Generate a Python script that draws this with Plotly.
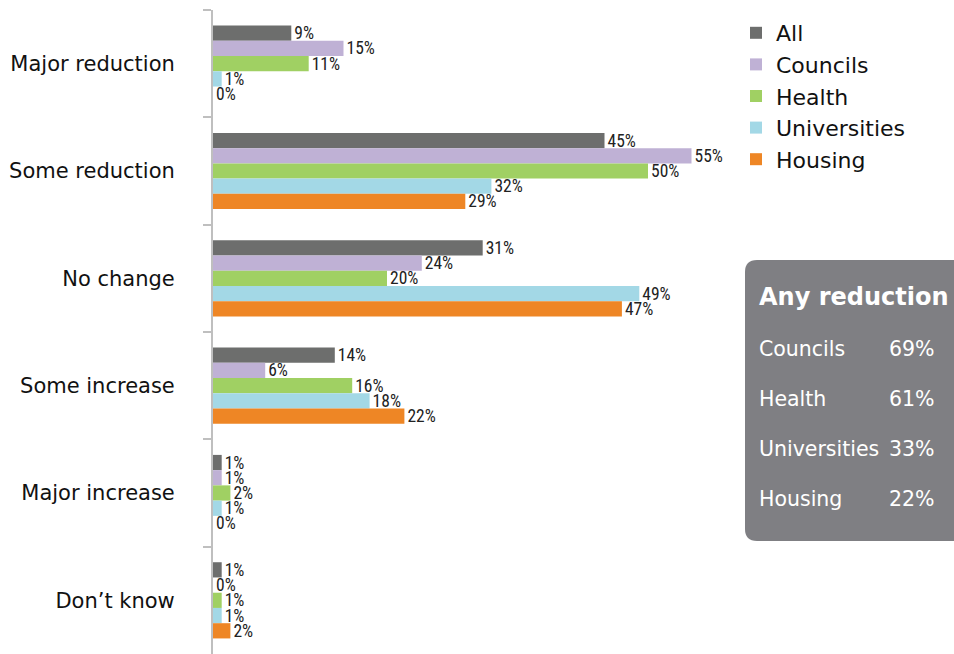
import plotly.graph_objects as go

categories = ["Major reduction", "Some reduction", "No change", "Some increase", "Major increase", "Don\u2019t know"]
series_names = ["All", "Councils", "Health", "Universities", "Housing"]
all_vals = [9, 45, 31, 14, 1, 1]
councils_vals = [15, 55, 24, 6, 1, 0]
health_vals = [11, 50, 20, 16, 2, 1]
universities_vals = [1, 32, 49, 18, 1, 1]
housing_vals = [0, 29, 47, 22, 0, 2]
series_values = [all_vals, councils_vals, health_vals, universities_vals, housing_vals]
colors = ["#6d6e6d", "#bfb1d5", "#a0d063", "#a3d8e6", "#ee8625"]

box_title = "Any reduction"
box_labels = ["Councils", "Health", "Universities", "Housing"]
box_values = [69, 61, 33, 22]

W, H = 954, 654
ML, MT, MB = 213, 10, 0
PW = 522
MR = W - ML - PW
PH = H - MT - MB

def px(x):
    return (x - ML) / PW

def py(y):
    return 1 - (y - MT) / PH

label_font = "Liberation Sans Narrow, Arial Narrow, Roboto Condensed, Roboto, sans-serif"
main_font = "DejaVu Sans, Verdana, sans-serif"

fig = go.Figure()
for name, vals, col in zip(series_names, series_values, colors):
    fig.add_trace(go.Bar(
        name=name, y=categories, x=vals, orientation="h",
        marker=dict(color=col, line=dict(width=0)),
        text=[f"{v}%" for v in vals], textposition="outside",
        textfont=dict(family=label_font, size=17.5, color="#222222"),
        constraintext="none", cliponaxis=False,
    ))

# rounded box
x0, x1, y0, y1, r = px(745), px(975), py(260), py(541), 12
rx = r / PW
ry = r / PH
path = (f"M {x0+rx},{y0} L {x1-rx},{y0} Q {x1},{y0} {x1},{y0-ry} "
        f"L {x1},{y1+ry} Q {x1},{y1} {x1-rx},{y1} L {x0+rx},{y1} "
        f"Q {x0},{y1} {x0},{y1+ry} L {x0},{y0-ry} Q {x0},{y0} {x0+rx},{y0} Z")
fig.add_shape(type="path", path=path, xref="paper", yref="paper",
              fillcolor="#7f7f83", line=dict(width=0), layer="above")

anns = [dict(text=f"<b>{box_title}</b>", x=px(757), y=py(297), xref="paper", yref="paper",
             xanchor="left", yanchor="middle", showarrow=False,
             font=dict(family=main_font, size=24, color="white"))]
for i, (lab, v) in enumerate(zip(box_labels, box_values)):
    yy = py(349 + 50 * i)
    anns.append(dict(text=lab, x=px(757), y=yy, xref="paper", yref="paper",
                     xanchor="left", yanchor="middle", showarrow=False,
                     font=dict(family=main_font, size=20.5, color="white")))
    anns.append(dict(text=f"{v}%", x=px(937), y=yy, xref="paper", yref="paper",
                     xanchor="right", yanchor="middle", showarrow=False,
                     font=dict(family=main_font, size=20.5, color="white")))

fig.update_layout(
    width=W, height=H,
    margin=dict(l=ML, r=MR, t=MT, b=MB, autoexpand=False),
    paper_bgcolor="white", plot_bgcolor="white",
    barmode="group", bargap=0.29, bargroupgap=0,
    showlegend=True,
    legend=dict(x=px(736), y=py(12), xanchor="left", yanchor="top",
                font=dict(family=main_font, size=22, color="#111111"),
                bgcolor="rgba(0,0,0,0)", traceorder="normal", tracegroupgap=0),
    xaxis=dict(range=[0, 60], visible=False),
    yaxis=dict(autorange="reversed", showline=True, linecolor="#bfbfbf", linewidth=2,
               ticks="outside", tickson="boundaries", ticklen=8, tickcolor="#bfbfbf",
               tickwidth=2, showgrid=False, zeroline=False, ticklabelstandoff=32,
               tickfont=dict(family=main_font, size=21, color="#111111")),
    annotations=anns,
)
fig.write_html(
    "out.html",
    config={"displayModeBar": False},
    post_script="document.body.style.margin='0';document.body.style.overflow='hidden';",
)
